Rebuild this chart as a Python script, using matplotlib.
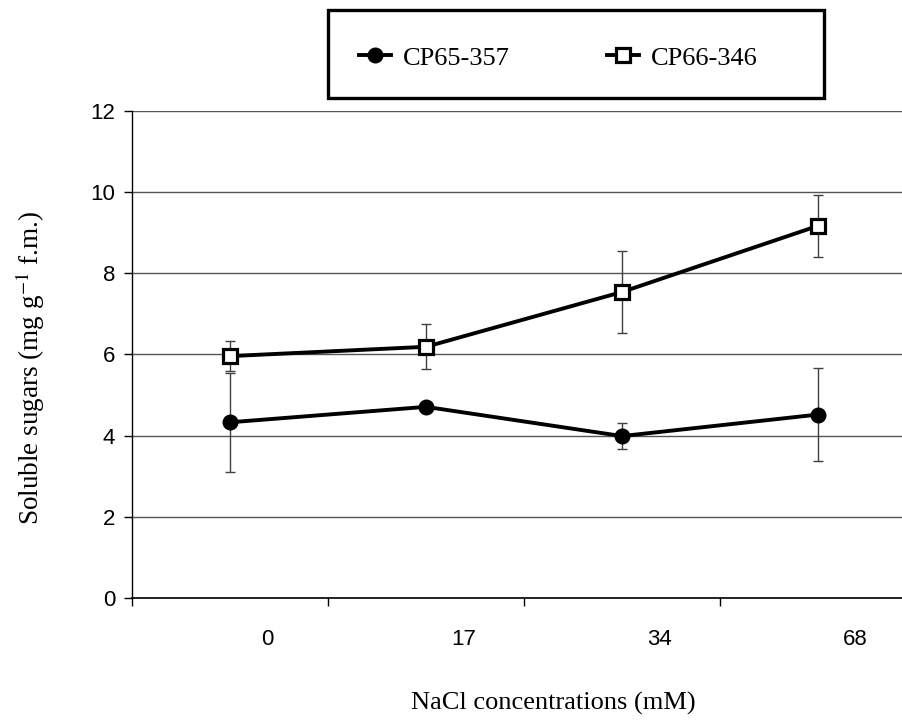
import matplotlib
matplotlib.use("Agg")
import matplotlib.pyplot as plt
from matplotlib.patches import Rectangle
import numpy as np

plt.rcParams['mathtext.fontset'] = 'stix'

# data
nacl = ['0', '17', '34', '68']
cp65_357 = [4.33, 4.71, 3.99, 4.52]
cp65_357_err = [1.22, 0.08, 0.32, 1.15]
cp66_346 = [5.96, 6.19, 7.54, 9.17]
cp66_346_err = [0.37, 0.55, 1.00, 0.77]

W, H = 903, 720
fig = plt.figure(figsize=(W / 100, H / 100), dpi=100)
# axes extends past the right edge of the figure, like the original
ax = fig.add_axes([132 / W, 122 / H, 784 / W, 487 / H])

x = np.arange(len(nacl))
errc = '#404040'
ax.errorbar(x, cp65_357, yerr=cp65_357_err, fmt='none', ecolor=errc,
            elinewidth=1.0, capsize=3.5, capthick=1.0, zorder=2)
ax.errorbar(x, cp66_346, yerr=cp66_346_err, fmt='none', ecolor=errc,
            elinewidth=1.0, capsize=3.5, capthick=1.0, zorder=2)
ax.plot(x, cp65_357, color='black', lw=2.8, marker='o', ms=10.5,
        mfc='black', mec='black', label='CP65-357', zorder=3)
ax.plot(x, cp66_346, color='black', lw=2.8, marker='s', ms=9.5,
        mfc='white', mec='black', mew=2.3, label='CP66-346', zorder=3)

ax.set_xlim(-0.5, 3.5)
ax.set_ylim(0, 12)
ax.set_yticks(np.arange(0, 13, 2))
ax.yaxis.grid(True, color='#555555', lw=1.0)
ax.set_axisbelow(True)

# category boundaries as major ticks, labels on minor ticks (offset as in original)
ax.set_xticks(np.arange(-0.5, 3.0, 1.0))
ax.set_xticklabels([])
ax.set_xticks(x + 0.19, minor=True)
ax.set_xticklabels(nacl, minor=True)
ax.tick_params(axis='x', which='major', direction='out', length=6, width=1)
ax.tick_params(axis='x', which='minor', length=0, pad=22, labelsize=16)
ax.tick_params(axis='y', direction='out', length=6, width=1, pad=6, labelsize=16)
for lab in ax.get_xticklabels(minor=True) + ax.get_yticklabels():
    lab.set_fontfamily('Liberation Sans')

for s in ['top', 'right']:
    ax.spines[s].set_visible(False)
ax.spines['left'].set_linewidth(1.0)
ax.spines['bottom'].set_linewidth(1.2)

fig.text(30 / W, 1 - 368 / H, 'Soluble sugars (mg g$^{-1}$ f.m.)',
         rotation=90, ha='center', va='center', fontsize=19.5,
         family='Liberation Serif')
fig.text(553 / W, 1 - 703 / H, 'NaCl concentrations (mM)', ha='center',
         va='center', fontsize=19, family='Liberation Serif')

# legend box as in the original
fig.patches.append(Rectangle((328 / W, 1 - 98 / H), 496 / W, 88 / H,
                             transform=fig.transFigure, fill=False,
                             edgecolor='black', lw=2.4, zorder=5))
leg = fig.legend(loc='center left', bbox_to_anchor=(359 / W, 1 - 58 / H),
                 ncol=2, frameon=False, borderaxespad=0, borderpad=0,
                 handlelength=1.2, handletextpad=0.45, columnspacing=3.7,
                 prop={'family': 'Liberation Serif', 'size': 19})

fig.savefig('out.png', dpi=100)
